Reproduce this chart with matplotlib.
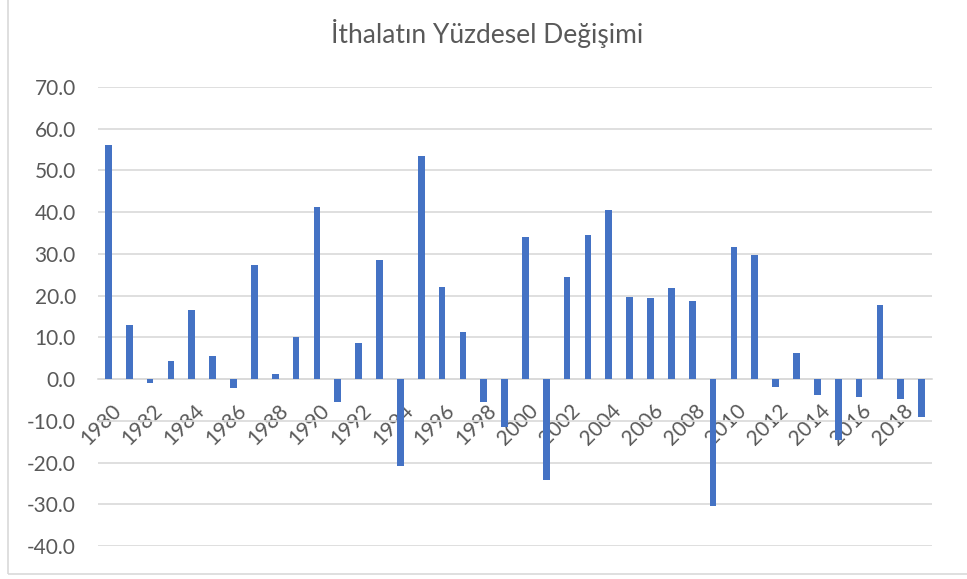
import matplotlib

matplotlib.use("Agg")
import matplotlib.pyplot as plt
from matplotlib.patches import Rectangle
from matplotlib.transforms import ScaledTranslation

# Yearly percentage change of imports
years = list(range(1980, 2020))
change = [
    56.0, 12.9, -1.0, 4.3, 16.5, 5.5, -2.2, 27.4, 1.2, 10.1,
    41.3, -5.6, 8.6, 28.6, -20.9, 53.5, 22.1, 11.2, -5.5, -11.5,
    34.0, -24.1, 24.5, 34.5, 40.6, 19.6, 19.5, 21.8, 18.8, -30.3,
    31.6, 29.8, -1.8, 6.3, -3.7, -14.5, -4.2, 17.7, -4.7, -9.1,
]
y_ticks = [-40, -30, -20, -10, 0, 10, 20, 30, 40, 50, 60, 70]
title = "İthalatın Yüzdesel Değişimi"

TEXT = "#595959"
GRID = "#D9D9D9"
BAR = "#4472C4"

plt.rcParams["font.family"] = ["Lato", "DejaVu Sans"]

fig = plt.figure(figsize=(9.67, 5.79), dpi=100)
ax = fig.add_axes([98 / 967, 1 - 546 / 579, (932 - 98) / 967, (546 - 87) / 579])

# outer chart frame (cropped at top and right in the reference)
fig.patches.append(
    Rectangle((8 / 967, 5 / 579), 1.2, 1.2, transform=fig.transFigure,
              fill=False, edgecolor=GRID, linewidth=1.2)
)

pos = list(range(len(years)))
ax.bar(pos, change, width=0.32, color=BAR, zorder=3)

ax.set_xlim(-0.5, len(years) - 0.5)
ax.set_ylim(-40, 70)
ax.set_yticks(y_ticks)
ax.set_yticklabels([f"{v:.1f}" for v in y_ticks])
ax.grid(axis="y", color=GRID, linewidth=1.2, zorder=0)

for side in ["top", "right", "left"]:
    ax.spines[side].set_visible(False)
ax.spines["bottom"].set_position(("data", 0))
ax.spines["bottom"].set_color(GRID)
ax.spines["bottom"].set_linewidth(1.2)
ax.spines["bottom"].set_zorder(2)

ax.set_xticks(pos[::2])
ax.set_xticklabels([str(y) for y in years[::2]], rotation=45, ha="right",
                   va="center", rotation_mode="anchor")
ax.tick_params(axis="x", length=0, pad=20.5, labelsize=15, labelcolor=TEXT)
ax.tick_params(axis="y", length=0, pad=16, labelsize=15, labelcolor=TEXT)

# shift year labels a little to the right, like the reference
shift = ScaledTranslation(9.5 / 100, 0, fig.dpi_scale_trans)
for lab in ax.get_xticklabels():
    lab.set_transform(lab.get_transform() + shift)

fig.text(487 / 967, 1 - 43 / 579, title, ha="center", va="baseline",
         fontsize=19, color=TEXT)

fig.savefig("out.png", dpi=100)
